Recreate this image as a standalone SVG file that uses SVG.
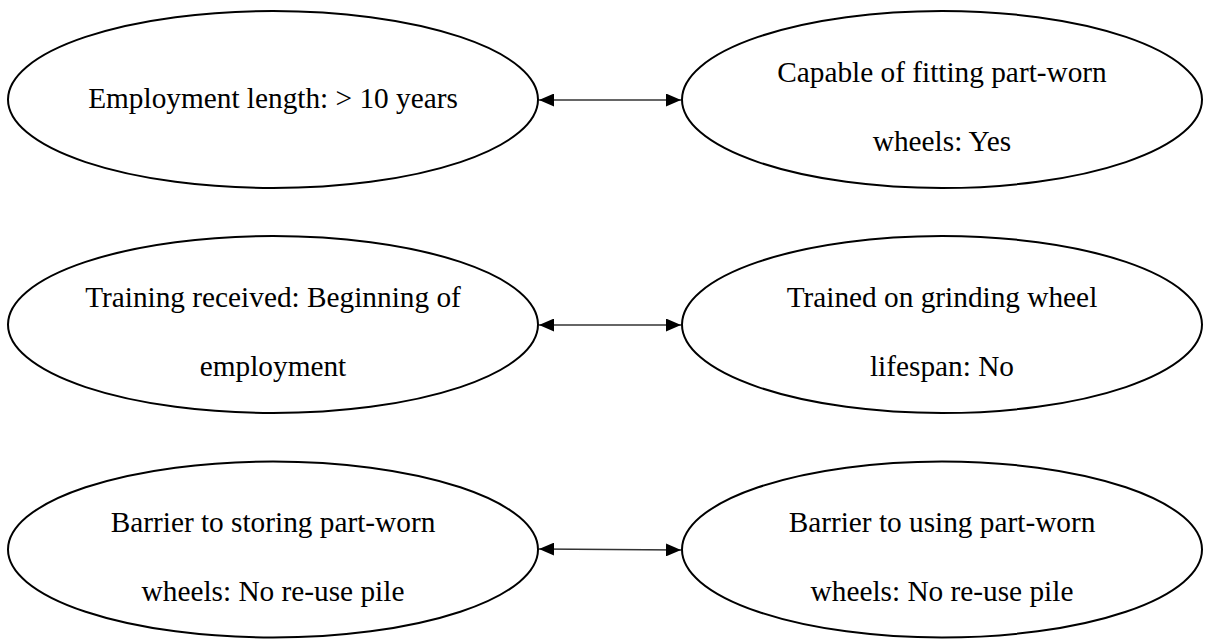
<svg xmlns="http://www.w3.org/2000/svg" width="1206" height="639" viewBox="0 0 1206 639">
<style>
.node ellipse{fill:#fff;stroke:#000;stroke-width:2}
.node text{font-family:"Liberation Serif","Times New Roman",serif;font-size:29.3px;fill:#000;text-anchor:middle}
.conn line{stroke:#333;stroke-width:1.6;marker-start:url(#ah);marker-end:url(#ah)}
</style>
<defs>
<marker id="ah" viewBox="0 0 15 13" refX="15" refY="6.5" markerUnits="userSpaceOnUse" markerWidth="15" markerHeight="13" orient="auto-start-reverse">
<path d="M0,0 L15,6.5 L0,13 Z" fill="#000"/>
</marker>
</defs>
<rect width="1206" height="639" fill="#fff"/>
<g id="n1" class="node"><ellipse cx="273" cy="99.5" rx="265" ry="88.5"/><text x="273" y="108">Employment length: &gt; 10 years</text></g>
<g id="n2" class="node"><ellipse cx="942" cy="99.5" rx="260" ry="88.5"/><text x="942" y="82">Capable of fitting part-worn</text><text x="942" y="151">wheels: Yes</text></g>
<g id="n3" class="node"><ellipse cx="273" cy="324.5" rx="265" ry="88.5"/><text x="273" y="307">Training received: Beginning of</text><text x="273" y="376">employment</text></g>
<g id="n4" class="node"><ellipse cx="942" cy="324.5" rx="260" ry="88.5"/><text x="942" y="307">Trained on grinding wheel</text><text x="942" y="376">lifespan: No</text></g>
<g id="n5" class="node"><ellipse cx="273" cy="549.5" rx="265" ry="88"/><text x="273" y="532">Barrier to storing part-worn</text><text x="273" y="601">wheels: No re-use pile</text></g>
<g id="n6" class="node"><ellipse cx="942" cy="549.5" rx="260" ry="88"/><text x="942" y="532">Barrier to using part-worn</text><text x="942" y="601">wheels: No re-use pile</text></g>
<g id="connectors" class="conn">
<line x1="539" y1="100" x2="681" y2="100"/>
<line x1="539" y1="325" x2="681" y2="325"/>
<line x1="539" y1="549" x2="681" y2="550"/>
</g>
</svg>
